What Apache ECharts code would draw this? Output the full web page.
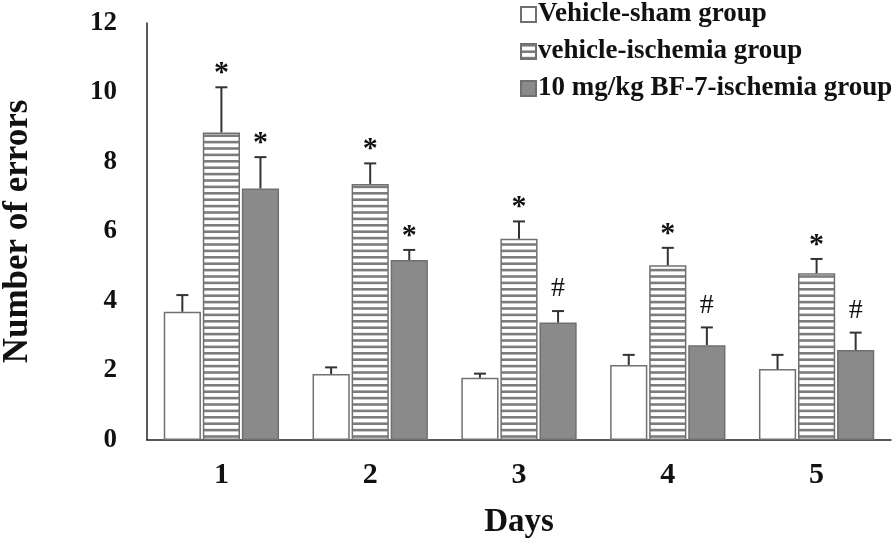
<!DOCTYPE html>
<html>
<head>
<meta charset="utf-8">
<script src="https://cdn.jsdelivr.net/npm/echarts@6/dist/echarts.min.js"></script>
<style>html,body{margin:0;padding:0;background:#fff}#c{width:896px;height:544px}</style>
</head>
<body>
<div id="c"></div>
<script>
var days = ['1', '2', '3', '4', '5'];
var seriesNames = ['Vehicle-sham group', 'vehicle-ischemia group', '10 mg/kg BF-7-ischemia group'];
var shamMean = [3.69, 1.90, 1.79, 2.16, 2.04];
var shamErr = [0.48, 0.19, 0.12, 0.29, 0.41];
var ischMean = [8.85, 7.37, 5.79, 5.03, 4.80];
var ischErr = [1.30, 0.59, 0.50, 0.50, 0.41];
var bfMean = [7.24, 5.18, 3.38, 2.73, 2.59];
var bfErr = [0.90, 0.29, 0.33, 0.51, 0.50];
var shamMarks = ['', '', '', '', ''];
var ischMarks = ['*', '*', '*', '*', '*'];
var bfMarks = ['*', '*', '#', '#', '#'];
var yTicks = [0, 2, 4, 6, 8, 10, 12];

var FONT = '"Liberation Serif", "Times New Roman", serif';

function stripeCanvas() {
  var c = document.createElement('canvas');
  c.width = 8; c.height = 32;
  var g = c.getContext('2d');
  g.fillStyle = '#ffffff';
  g.fillRect(0, 0, 8, 32);
  g.fillStyle = '#7c7c7c';
  for (var i = 0; i < 5; i++) {
    g.fillRect(0, i * 6.4, 8, 2.6);
  }
  return c;
}

var means = [shamMean, ischMean, bfMean];
var errs = [shamErr, ischErr, bfErr];
var marks = [shamMarks, ischMarks, bfMarks];
var fills = ['#ffffff', {image: stripeCanvas(), repeat: 'repeat'}, '#8a8a8a'];

var BAR_W = 0.25, BAR_GAP = 0.05;

var series = [];
for (var k = 0; k < 3; k++) {
  series.push({
    name: seriesNames[k],
    type: 'bar',
    barWidth: (BAR_W * 100) + '%',
    barGap: (BAR_GAP * 100) + '%',
    data: means[k],
    itemStyle: {color: fills[k], borderColor: '#707070', borderWidth: 1.5},
    emphasis: {disabled: true},
    z: 2
  });
}
for (var k2 = 0; k2 < 3; k2++) {
  (function (k) {
    var d = means[k].map(function (v, i) { return [i, v, errs[k][i]]; });
    series.push({
      type: 'custom',
      name: seriesNames[k] + ' err',
      data: d,
      encode: {x: 0, y: 1},
      z: 3,
      silent: true,
      renderItem: function (params, api) {
        var i = api.value(0), m = api.value(1), e = api.value(2);
        var band = api.size([1, 0])[0];
        var off = (k - 1) * band * BAR_W * (1 + BAR_GAP);
        var base = api.coord([i, m]);
        var top = api.coord([i, m + e]);
        var x = base[0] + off;
        var cap = 6;
        var st = {stroke: '#333333', lineWidth: 2};
        var children = [
          {type: 'line', shape: {x1: x, y1: base[1], x2: x, y2: top[1]}, style: st},
          {type: 'line', shape: {x1: x - cap, y1: top[1], x2: x + cap, y2: top[1]}, style: st}
        ];
        var mk = marks[k][params.dataIndex];
        if (mk) {
          children.push({
            type: 'text',
            style: {
              text: mk, x: x, y: mk === '*' ? top[1] - 14 : top[1] - 22,
              align: 'center', verticalAlign: 'middle',
              font: (mk === '*' ? 'bold 30px ' : '28px ') + FONT,
              fill: '#111111'
            }
          });
        }
        return {type: 'group', children: children};
      }
    });
  })(k2);
}

var chart = echarts.init(document.getElementById('c'), null, {renderer: 'canvas'});
chart.setOption({
  animation: false,
  backgroundColor: '#ffffff',
  grid: {left: 147, right: 5, top: 23, bottom: 104, containLabel: false, outerBoundsMode: 'none'},
  legend: {
    data: seriesNames,
    orient: 'vertical',
    left: 520, top: 1,
    padding: 0,
    icon: 'rect',
    itemWidth: 15, itemHeight: 15,
    itemGap: 10,
    selectedMode: false,
    textStyle: {fontFamily: FONT, fontWeight: 'bold', fontSize: 27, color: '#111', padding: [0, 0, 0, -3], lineHeight: 27}
  },
  xAxis: {
    type: 'category',
    data: days,
    axisLine: {lineStyle: {color: '#222', width: 1.5}},
    axisTick: {show: false},
    axisLabel: {fontFamily: FONT, fontWeight: 'bold', fontSize: 30, color: '#111', margin: 20},
    name: 'Days',
    nameLocation: 'middle',
    nameGap: 66,
    nameTextStyle: {fontFamily: FONT, fontWeight: 'bold', fontSize: 33, color: '#111'}
  },
  yAxis: {
    type: 'value',
    min: yTicks[0], max: yTicks[yTicks.length - 1], interval: 2,
    axisLine: {show: true, lineStyle: {color: '#222', width: 1.5}},
    axisTick: {show: false},
    splitLine: {show: false},
    axisLabel: {fontFamily: FONT, fontWeight: 'bold', fontSize: 27, color: '#111', margin: 30},
    name: 'Number of errors',
    nameLocation: 'middle',
    nameGap: 112,
    nameTextStyle: {fontFamily: FONT, fontWeight: 'bold', fontSize: 35, color: '#111'}
  },
  series: series
});
</script>
</body>
</html>
